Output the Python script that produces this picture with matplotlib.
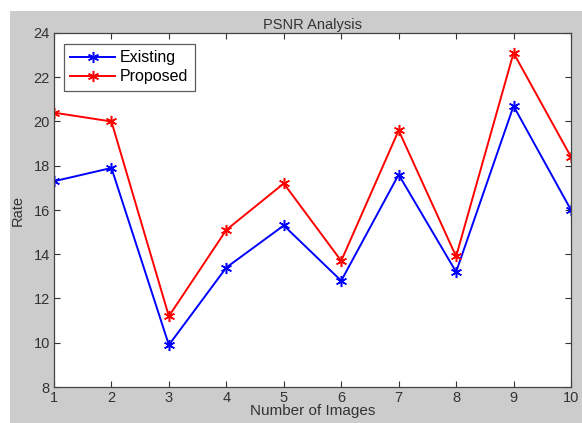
import matplotlib
matplotlib.use("Agg")
import matplotlib.pyplot as plt
from matplotlib.patches import Rectangle

plt.rcParams['font.family'] = ['Liberation Sans', 'DejaVu Sans']

images = [1, 2, 3, 4, 5, 6, 7, 8, 9, 10]
existing = [17.3, 17.9, 9.9, 13.4, 15.3, 12.8, 17.6, 13.2, 20.7, 16.0]
proposed = [20.4, 20.0, 11.2, 15.1, 17.2, 13.7, 19.6, 13.9, 23.1, 18.4]
yticks = [8, 10, 12, 14, 16, 18, 20, 22, 24]

fig = plt.figure(figsize=(5.82, 4.23), dpi=100, facecolor='white')
fig.patches.append(Rectangle((10/582, 0), 1 - 10/582, 1 - 11/423,
                             transform=fig.transFigure, facecolor='#cccccc',
                             edgecolor='none', zorder=-10))
ax = fig.add_axes([54/582, 1 - 387/423, (571 - 54)/582, (387 - 33)/423])
ax.set_facecolor('white')

star = (6, 2, 0)
ax.plot(images, existing, color='#0000ff', marker=star, markersize=8,
        markeredgewidth=1.1, linewidth=1.4, label='Existing')
ax.plot(images, proposed, color='#ff0000', marker=star, markersize=8,
        markeredgewidth=1.1, linewidth=1.4, label='Proposed')

ax.set_xlim(1, 10)
ax.set_ylim(8, 24)
ax.set_xticks(images)
ax.set_yticks(yticks)
ax.tick_params(direction='in', top=True, right=True, length=4, width=0.8,
               labelsize=10.5, colors='#333333', pad=3)
for s in ax.spines.values():
    s.set_color('#444444')
    s.set_linewidth(0.9)

ax.set_title('PSNR Analysis', fontsize=10.5, color='#333333', pad=3)
ax.set_xlabel('Number of Images', fontsize=11, color='#333333', labelpad=-1)
ax.set_ylabel('Rate', fontsize=10.5, color='#333333', labelpad=6)

leg = ax.legend(loc='upper left', fontsize=11.5, frameon=True, fancybox=False,
                edgecolor='#333333', borderpad=0.4, handlelength=2.8,
                labelspacing=0.25, handletextpad=0.3,
                bbox_to_anchor=(0.004, 0.992))
leg.get_frame().set_linewidth(0.9)

fig.savefig('out.png', dpi=100, facecolor=fig.get_facecolor())
